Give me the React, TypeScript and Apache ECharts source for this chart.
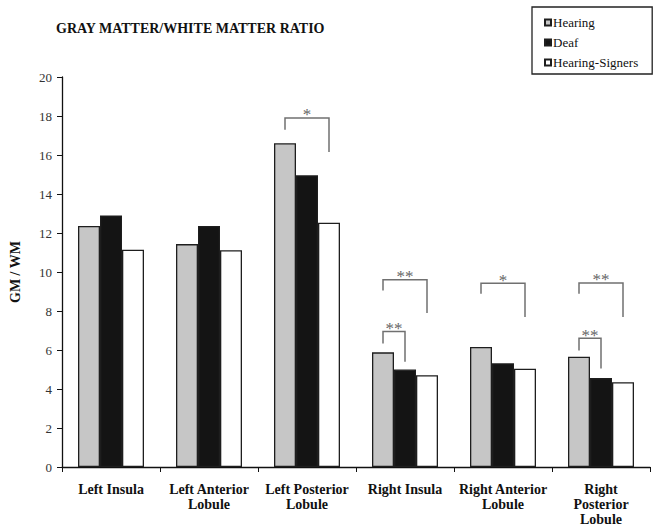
import React, { useEffect, useRef } from "react";
import * as echarts from "echarts";

const categories = [
  "Left Insula",
  "Left Anterior\nLobule",
  "Left Posterior\nLobule",
  "Right Insula",
  "Right Anterior\nLobule",
  "Right\nPosterior\nLobule",
];
const seriesNames = ["Hearing", "Deaf", "Hearing-Signers"];
const hearing = [12.36, 11.43, 16.6, 5.88, 6.16, 5.66];
const deaf = [12.9, 12.36, 14.96, 5.0, 5.32, 4.56];
const hearingSigners = [11.14, 11.12, 12.53, 4.71, 5.04, 4.35];
const yTicks = { min: 0, max: 20, interval: 2 };

// significance brackets: category, from bar, to bar, top value, left leg end, right leg end, label
const brackets = [
  { cat: 2, from: 0, to: 2, top: 17.9, leftEnd: 17.3, rightEnd: 16.15, label: "*" },
  { cat: 3, from: 0, to: 2, top: 9.6, leftEnd: 9.05, rightEnd: 7.9, label: "**" },
  { cat: 3, from: 0, to: 1, top: 6.95, leftEnd: 6.33, rightEnd: 5.4, label: "**" },
  { cat: 4, from: 0, to: 2, top: 9.42, leftEnd: 8.88, rightEnd: 7.69, label: "*" },
  { cat: 5, from: 0, to: 2, top: 9.44, leftEnd: 8.88, rightEnd: 7.69, label: "**" },
  { cat: 5, from: 0, to: 1, top: 6.6, leftEnd: 5.98, rightEnd: 5.05, label: "**" },
];

const SERIF = "'Liberation Serif', 'DejaVu Serif', serif";
const BAR_W = 22;

export default function App() {
  const ref = useRef<HTMLDivElement>(null);
  useEffect(() => {
    document.body.style.margin = "0";
    if (!ref.current) return;
    const chart = echarts.init(ref.current, undefined, { renderer: "svg" });
    const colors = ["#c6c6c6", "#141414", "#ffffff"];
    const values = [hearing, deaf, hearingSigners];
    const barSeries = seriesNames.map((name, i) => ({
      name,
      type: "bar",
      data: values[i],
      barWidth: BAR_W,
      barGap: "0%",
      itemStyle: { color: colors[i], borderColor: "#1e1e1e", borderWidth: 1.3 },
    }));
    chart.setOption({
      animation: false,
      title: {
        text: "GRAY MATTER/WHITE MATTER RATIO",
        left: 56,
        top: 21,
        padding: 0,
        textStyle: { fontFamily: SERIF, fontWeight: "bold", fontSize: 14, color: "#111" },
      },
      legend: {
        orient: "vertical",
        left: 532,
        top: 7,
        data: seriesNames,
        itemWidth: 6,
        itemHeight: 6,
        itemGap: 7,
        icon: "rect",
        borderColor: "#222",
        borderWidth: 1.3,
        padding: [9, 14, 5, 12],
        textStyle: { fontFamily: SERIF, fontSize: 13, color: "#111", padding: [0, 0, 0, -3] },
      },
      grid: { left: 62, right: 4, top: 77, bottom: 58 },
      xAxis: {
        type: "category",
        data: categories,
        axisLine: { lineStyle: { color: "#111", width: 1.3 } },
        axisTick: { show: true, length: 5, lineStyle: { color: "#111" } },
        axisLabel: {
          interval: 0,
          margin: 15,
          fontFamily: SERIF,
          fontWeight: "bold",
          fontSize: 14,
          lineHeight: 15,
          color: "#111",
        },
      },
      yAxis: {
        type: "value",
        min: yTicks.min,
        max: yTicks.max,
        interval: yTicks.interval,
        name: "GM / WM",
        nameLocation: "middle",
        nameGap: 40,
        nameTextStyle: { fontFamily: SERIF, fontWeight: "bold", fontSize: 14, color: "#111" },
        axisLine: { show: true, lineStyle: { color: "#111", width: 1.3 } },
        axisTick: { show: true, length: 5, lineStyle: { color: "#111" } },
        splitLine: { show: false },
        axisLabel: { fontFamily: SERIF, fontSize: 13, color: "#333", margin: 10 },
      },
      series: [
        ...barSeries,
        {
          type: "custom",
          name: "sig",
          silent: true,
          z: 5,
          itemStyle: { color: "#6e6e6e" },
          data: brackets.map((b) => [b.cat, b.from, b.to, b.top, b.leftEnd, b.rightEnd]),
          renderItem: (params: any, api: any) => {
            const cat = api.value(0);
            const from = api.value(1);
            const to = api.value(2);
            const cx = api.coord([cat, 0])[0];
            const x1 = cx + (from - 1) * BAR_W;
            const x2 = cx + (to - 1) * BAR_W;
            const yTop = api.coord([cat, api.value(3)])[1];
            const yL = api.coord([cat, api.value(4)])[1];
            const yR = api.coord([cat, api.value(5)])[1];
            const label = brackets[params.dataIndex].label;
            return {
              type: "group",
              children: [
                {
                  type: "polyline",
                  shape: { points: [[x1, yL], [x1, yTop], [x2, yTop], [x2, yR]] },
                  style: { stroke: "#707070", lineWidth: 1.5, fill: "none" },
                },
                {
                  type: "text",
                  x: (x1 + x2) / 2,
                  y: yTop - 3,
                  style: {
                    text: label,
                    fontFamily: SERIF,
                    fontSize: 17,
                    fill: "#666666",
                    stroke: "none",
                    align: "center",
                    verticalAlign: "middle",
                  },
                },
              ],
            };
          },
        },
      ],
    });
    return () => chart.dispose();
  }, []);
  return <div ref={ref} style={{ width: 654, height: 527 }} />;
}
